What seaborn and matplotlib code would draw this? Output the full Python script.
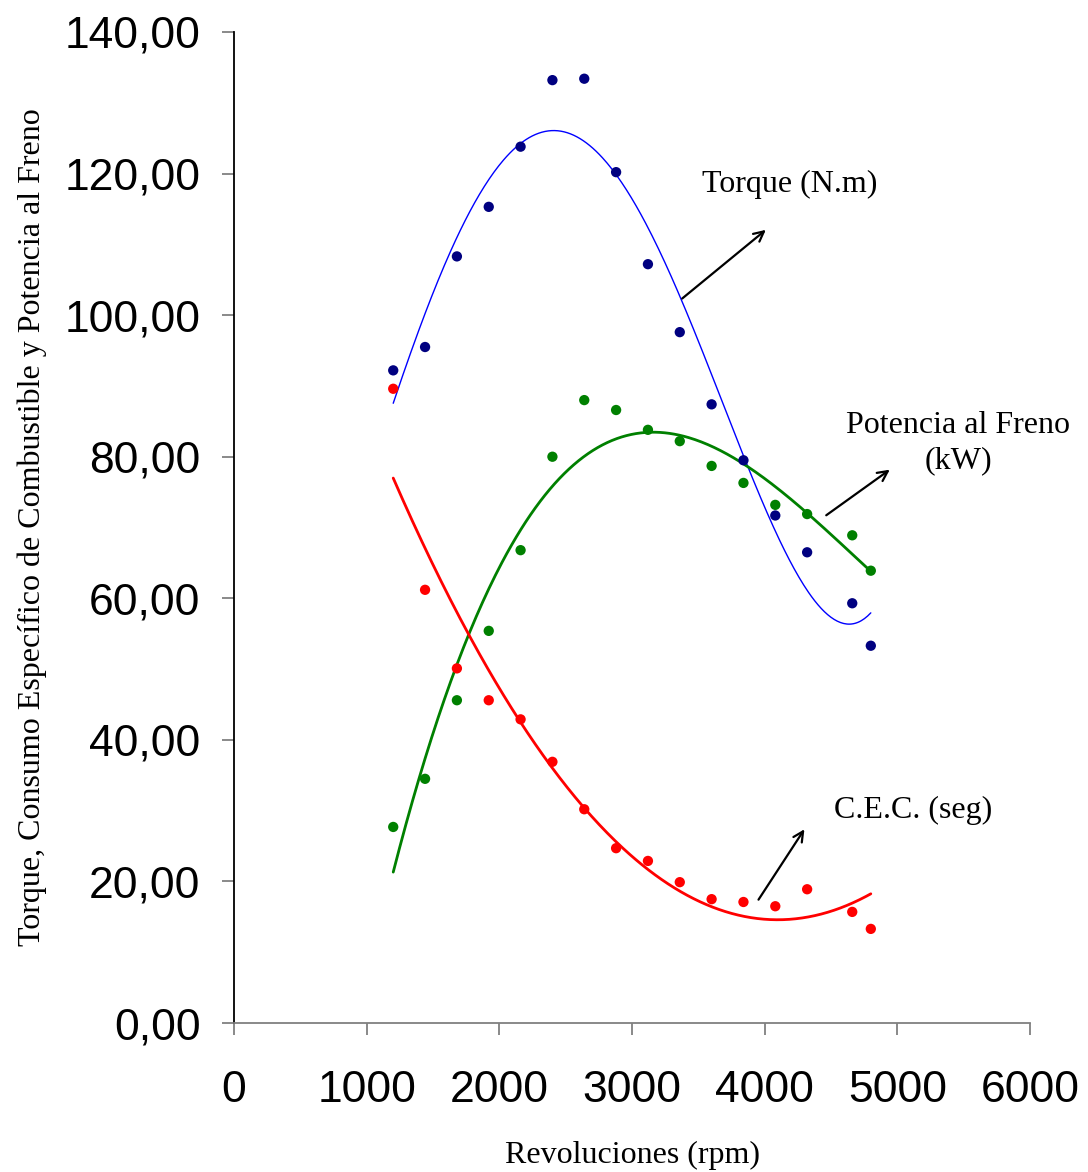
import numpy as np
import pandas as pd
import matplotlib
matplotlib.use("Agg")
import matplotlib.pyplot as plt
import seaborn as sns
from matplotlib.ticker import FuncFormatter

rpm = [1200, 1440, 1680, 1920, 2160, 2400, 2640, 2880, 3120, 3360, 3600, 3840, 4080, 4320, 4660, 4800]
torque = [92.2, 95.5, 108.3, 115.3, 123.8, 133.2, 133.4, 120.2, 107.2, 97.6, 87.4, 79.5, 71.7, 66.5, 59.3, 53.3]
potencia = [27.7, 34.5, 45.6, 55.4, 66.8, 80.0, 88.0, 86.6, 83.8, 82.2, 78.7, 76.3, 73.2, 71.9, 68.9, 63.9]
cec = [89.6, 61.2, 50.1, 45.6, 42.9, 36.9, 30.2, 24.7, 22.9, 19.9, 17.5, 17.1, 16.5, 18.9, 15.7, 13.3]

x_ticks = [0, 1000, 2000, 3000, 4000, 5000, 6000]
y_ticks = [0, 20, 40, 60, 80, 100, 120, 140]

sns.set_style("white")
plt.rcParams['font.family'] = ['Liberation Sans', 'DejaVu Sans']
plt.rcParams['text.color'] = 'black'
plt.rcParams['axes.labelcolor'] = 'black'

fig = plt.figure(figsize=(10.88, 11.72), dpi=100)
ax = fig.add_axes([0.2151, 0.1271, 0.9467 - 0.2151, 0.9727 - 0.1271])

df = pd.DataFrame({"rpm": rpm, "Torque": torque, "Potencia": potencia, "CEC": cec})
xs = np.linspace(min(rpm), max(rpm), 300)

series = [("Torque", "#000080", "#0000FF", 1.0, 4),
          ("Potencia", "#008000", "#008000", 2.0, 3),
          ("CEC", "#FF0000", "#FF0000", 2.0, 2)]
for col, mc, lc, lw, deg in series:
    coef = np.polyfit(df["rpm"], df[col], deg)
    fit = pd.DataFrame({"rpm": xs, "v": np.polyval(coef, xs)})
    sns.lineplot(data=fit, x="rpm", y="v", ax=ax, color=lc, linewidth=lw)
    sns.scatterplot(data=df, x="rpm", y=col, ax=ax, color=mc, s=55, edgecolor="none", zorder=3)

ax.set_xlim(0, 6000)
ax.set_ylim(0, 140)
ax.set_xticks(x_ticks)
ax.set_yticks(y_ticks)
ax.yaxis.set_major_formatter(FuncFormatter(lambda v, p: f"{v:.2f}".replace(".", ",")))
ax.tick_params(axis="both", bottom=True, left=True, labelsize=32, length=8.6, width=1.3,
               color="#808080", labelcolor="black", direction="out")
ax.tick_params(axis="y", pad=15.5)
ax.tick_params(axis="x", pad=25)
for s in ["top", "right"]:
    ax.spines[s].set_visible(False)
ax.spines["left"].set_color("black")
ax.spines["left"].set_linewidth(1.3)
ax.spines["bottom"].set_color("#808080")
ax.spines["bottom"].set_linewidth(1.3)

serif = ['Liberation Serif', 'DejaVu Serif']
ax.set_xlabel("Revoluciones (rpm)", fontsize=23, family=serif, labelpad=22, color="black")
ax.set_ylabel("Torque, Consumo Específico de Combustible y Potencia al Freno", fontsize=23,
              family=serif, labelpad=13, color="black")

arrow = dict(arrowstyle="->", color="black", lw=1.6, mutation_scale=18)
ax.annotate("", xy=(4025, 112.3), xytext=(3362, 102.1), arrowprops=arrow)
ax.text(4191, 118.4, "Torque (N.m)", fontsize=23, family=serif, ha="center", va="center", color="black")
ax.annotate("", xy=(4960, 78.4), xytext=(4447, 71.5), arrowprops=arrow)
ax.text(5457, 81.9, "Potencia al Freno\n(kW)", fontsize=23, family=serif, ha="center", va="center",
        linespacing=1.3, color="black")
ax.annotate("", xy=(4311, 27.7), xytext=(3942, 17.1), arrowprops=arrow)
ax.text(5118, 30.1, "C.E.C. (seg)", fontsize=23, family=serif, ha="center", va="center", color="black")

fig.savefig("out.png", dpi=100)
